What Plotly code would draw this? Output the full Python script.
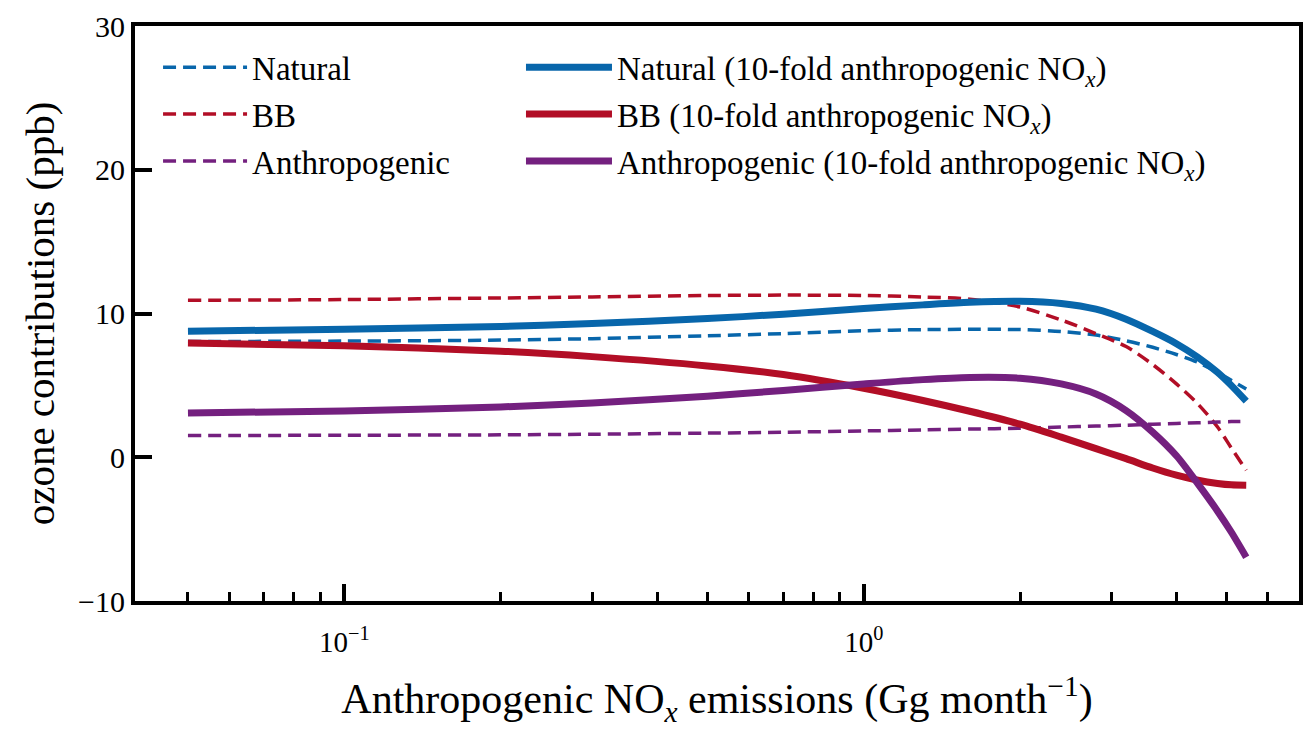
'''Ozone contributions vs anthropogenic NOx emissions'''

import plotly.graph_objs as go

# anthropogenic NOx emissions (Gg month-1)
emissions = [0.05, 0.1, 0.2, 0.3, 0.5, 0.7, 1.0, 1.3, 1.6, 2.0,
             2.4, 2.8, 3.2, 3.6, 4.0, 4.4, 4.8, 5.1, 5.45]

# ozone contributions (ppb), baseline
natural = [8.05, 8.08, 8.15, 8.25, 8.45, 8.6, 8.8, 8.88, 8.9, 8.88,
           8.75, 8.5, 8.1, 7.65, 7.15, 6.6, 5.9, 5.35, 4.75]
bb = [10.92, 10.97, 11.08, 11.15, 11.25, 11.28, 11.25, 11.15, 11.0, 10.45,
      9.55, 8.6, 7.7, 6.45, 5.1, 3.7, 2.1, 0.65, -0.9]
anthro = [1.51, 1.53, 1.56, 1.6, 1.68, 1.74, 1.83, 1.9, 1.96, 2.02,
          2.1, 2.17, 2.23, 2.3, 2.35, 2.4, 2.45, 2.48, 2.5]

# ozone contributions (ppb), 10-fold anthropogenic NOx
natural_10x = [8.77, 8.9, 9.1, 9.3, 9.65, 9.95, 10.35, 10.6, 10.78, 10.85,
               10.7, 10.3, 9.6, 8.75, 7.9, 6.95, 5.9, 5.0, 3.9]
bb_10x = [7.95, 7.75, 7.38, 7.0, 6.35, 5.75, 4.8, 3.95, 3.2, 2.3,
          1.4, 0.6, -0.1, -0.75, -1.25, -1.6, -1.82, -1.92, -1.95]
anthro_10x = [3.08, 3.22, 3.5, 3.78, 4.25, 4.65, 5.1, 5.4, 5.55, 5.5,
              5.1, 4.4, 3.25, 1.75, 0.1, -1.85, -3.75, -5.2, -6.95]

BLUE = '#0866ab'
RED = '#b20e26'
PURPLE = '#74207f'
FONT = 'Liberation Serif'
NOX = 'NO<sub><i>x</i></sub>'


def line(y, name, color, dashed, legend, group):
    return go.Scatter(
        x=emissions, y=y, name=name, mode='lines',
        line=dict(color=color, width=3.5 if dashed else 7,
                  dash='13px,7px' if dashed else 'solid',
                  shape='spline', smoothing=0.8),
        legend=legend, legendgroup=group,
    )


data = [
    line(natural, 'Natural', BLUE, True, 'legend', 'a'),
    line(bb, 'BB', RED, True, 'legend', 'b'),
    line(anthro, 'Anthropogenic', PURPLE, True, 'legend', 'c'),
    line(natural_10x, 'Natural (10-fold anthropogenic ' + NOX + ')', BLUE, False, 'legend2', 'd'),
    line(bb_10x, 'BB (10-fold anthropogenic ' + NOX + ')', RED, False, 'legend2', 'e'),
    line(anthro_10x, 'Anthropogenic (10-fold anthropogenic ' + NOX + ')', PURPLE, False, 'legend2', 'f'),
]

legend_style = dict(
    font=dict(family=FONT, size=33, color='black'),
    bgcolor='rgba(0,0,0,0)', borderwidth=0,
    traceorder='grouped', tracegroupgap=1,
    yanchor='top', xanchor='left',
)

# the page body adds an 8px margin, so the figure is kept 8px smaller
layout = go.Layout(
    width=1306, height=726,
    paper_bgcolor='white', plot_bgcolor='white',
    margin=dict(l=127, r=15, t=18, b=133),
    font=dict(family=FONT, size=29, color='black'),
    xaxis=dict(
        type='log',
        range=[-1.403, 0.838],
        tickvals=[0.1, 1],
        ticktext=['10<sup>−1</sup>', '10<sup>0</sup>'],
        ticks='inside', ticklen=17, tickwidth=3.5, tickcolor='black',
        minor=dict(ticks='inside', ticklen=9, tickwidth=2.5, tickcolor='black',
                   tickvals=[0.05, 0.06, 0.07, 0.08, 0.09,
                             0.2, 0.3, 0.4, 0.5, 0.6, 0.7, 0.8, 0.9,
                             2, 3, 4, 5, 6, 7, 8, 9]),
        showline=True, linewidth=4, linecolor='black', mirror=True,
        showgrid=False, zeroline=False, automargin=False,
        tickfont=dict(size=29), ticklabelstandoff=12,
        title=dict(text='Anthropogenic ' + NOX + ' emissions (Gg month<sup>−1</sup>)',
                   font=dict(size=42), standoff=28),
    ),
    yaxis=dict(
        range=[-10, 30],
        tickvals=[-10, 0, 10, 20, 30],
        ticktext=['−10', '0', '10', '20', '30'],
        ticks='inside', ticklen=17, tickwidth=3.5, tickcolor='black',
        showline=True, linewidth=4, linecolor='black', mirror=True,
        showgrid=False, zeroline=False, automargin=False,
        tickfont=dict(size=30),
        title=dict(text='ozone contributions (ppb)', font=dict(size=41), standoff=12),
    ),
    legend=dict(legend_style, x=0.0198, y=0.977, itemwidth=84),
    legend2=dict(legend_style, x=0.3316, y=0.977, itemwidth=86),
)

fig = go.Figure(data=data, layout=layout)
fig.write_html('out.html')
